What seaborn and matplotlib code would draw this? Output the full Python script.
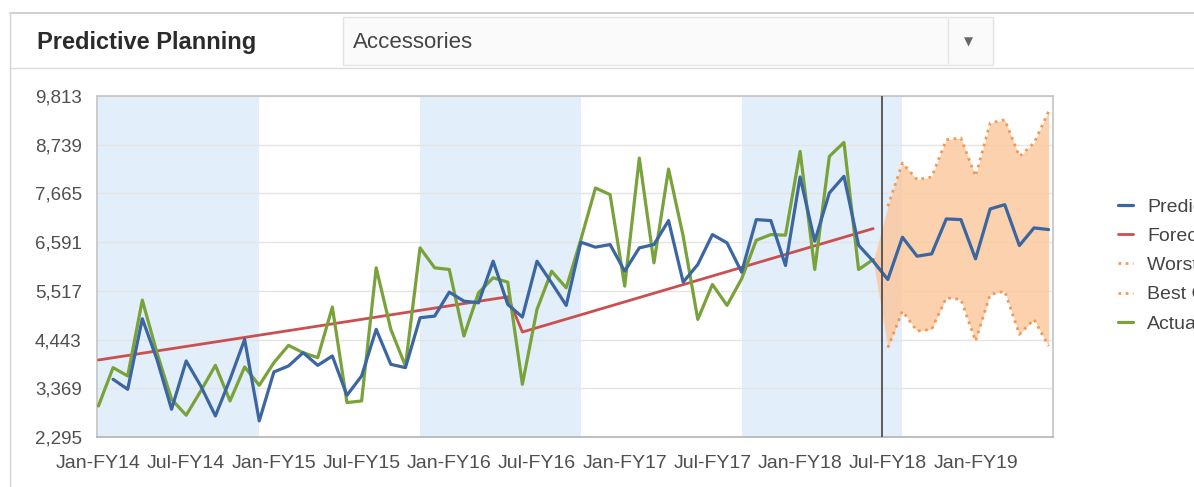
import numpy as np
import pandas as pd
import matplotlib
matplotlib.use("Agg")
import matplotlib.pyplot as plt
from matplotlib.patches import Rectangle
from matplotlib.lines import Line2D
from matplotlib.ticker import FuncFormatter
import seaborn as sns

# ---- data -----------------------------------------------------------------
tick_labels = ["Jan-FY14", "Jul-FY14", "Jan-FY15", "Jul-FY15", "Jan-FY16",
               "Jul-FY16", "Jan-FY17", "Jul-FY17", "Jan-FY18", "Jul-FY18",
               "Jan-FY19"]
y_ticks = [2295, 3369, 4443, 5517, 6591, 7665, 8739, 9813]

# monthly actuals, Jan-FY14 .. Jun-FY18
actual = [2980, 3824, 3640, 5313, 4154, 3127, 2775, 3310, 3875, 3090,
          3839, 3435, 3934, 4315, 4154, 4044, 5159, 3054, 3090, 6025,
          4668, 3861, 6465, 6025, 5988, 4521, 5474, 5805, 5709, 3457,
          5108, 5951, 5584, 6648, 7785, 7639, 5621, 8445, 6135, 8203,
          6722, 4888, 5658, 5196, 5783, 6634, 6758, 6744, 8592, 5988,
          8482, 8790, 5988, 6208]

# model prediction, Feb-FY14 .. Jun-FY19
predicted = [3567, 3347, 4902, 4007, 2907, 3971, 3420, 2760, 3567, 4447,
             2650, 3729, 3861, 4154, 3875, 4081, 3215, 3640, 4668, 3897,
             3824, 4924, 4961, 5489, 5291, 5254, 6171, 5218, 4939, 6171,
             5694, 5196, 6590, 6480, 6538, 5951, 6465, 6538, 7066, 5709,
             6098, 6758, 6575, 5929, 7088, 7066, 6076, 8027, 6611, 7675,
             8042, 6523, 6171, 5768, 6700, 6281, 6333, 7103, 7088, 6223,
             7323, 7418, 6516, 6905, 6868]

# trend forecast break points (month index, value)
forecast_month = [0, 28, 29, 53]
forecast = [3993, 5386, 4609, 6890]

# scenario bounds, Jul-FY18 .. Jun-FY19
worst_case = [4264, 5071, 4631, 4668, 5364, 5328, 4411, 5438, 5511, 4558,
              4888, 4301]
best_case = [7382, 8336, 7969, 8027, 8849, 8886, 8042, 9216, 9289, 8482,
             8776, 9473]

# alternating shaded periods (month index start, end)
band_start = [-0.5, 22, 44]
band_end = [10.95, 33, 55]
today_month = 53.58

# ---- frames ---------------------------------------------------------------
n_act = len(actual)
df_act = pd.DataFrame({"month": np.arange(n_act), "value": actual})
df_pred = pd.DataFrame({"month": np.arange(1, 1 + len(predicted)),
                        "value": predicted})
df_fc = pd.DataFrame({"month": forecast_month, "value": forecast})
scen_months = np.arange(54, 54 + len(best_case))
df_worst = pd.DataFrame({"month": scen_months, "value": worst_case})
df_best = pd.DataFrame({"month": scen_months, "value": best_case})

# ---- style ----------------------------------------------------------------
sns.set_style("white")
plt.rcParams["font.family"] = ["Liberation Sans", "DejaVu Sans"]

C_PRED = "#3b66a2"
C_FC = "#cc4f4f"
C_ACT = "#7aa23a"
C_SCEN = "#f29a55"
C_FILL = "#fbc9a0"
C_BAND = "#e2eef9"

fig = plt.figure(figsize=(11.94, 4.87), dpi=100)
W, H = 1194.0, 487.0

# ---- header panel ---------------------------------------------------------
fig.add_artist(Line2D([10 / W, 1], [1 - 13 / H, 1 - 13 / H],
                      transform=fig.transFigure, color="#c9c9c9", lw=1.2))
fig.add_artist(Line2D([10 / W, 1], [1 - 68 / H, 1 - 68 / H],
                      transform=fig.transFigure, color="#dcdcdc", lw=1.0))
fig.add_artist(Line2D([10 / W, 10 / W], [0, 1 - 13 / H],
                      transform=fig.transFigure, color="#d4d4d4", lw=1.0))
fig.add_artist(Rectangle((343 / W, 1 - 65 / H), 650 / W, 48 / H,
                         transform=fig.transFigure, facecolor="#fafafb",
                         edgecolor="#e4e4e4", lw=1.0))
fig.add_artist(Line2D([948 / W, 948 / W], [1 - 63 / H, 1 - 19 / H],
                      transform=fig.transFigure, color="#e4e4e4", lw=1.0))
fig.text(37 / W, 1 - 43 / H, "Predictive Planning", fontsize=17,
         fontweight="bold", color="#2b2b2b", va="center", ha="left")
fig.text(353 / W, 1 - 43 / H, "Accessories", fontsize=16,
         color="#444444", va="center", ha="left")
fig.text(968 / W, 1 - 42 / H, "\u25BC", fontsize=8.5, color="#666666",
         va="center", ha="center", family="DejaVu Sans")

# ---- chart ----------------------------------------------------------------
ax = fig.add_axes([97 / W, 1 - 437 / H, 956 / W, 341 / H])
ax.set_facecolor("white")

for s, e in zip(band_start, band_end):
    ax.axvspan(s, e, color=C_BAND, lw=0, zorder=0)

ax.fill_between(np.concatenate([[53], scen_months]),
                np.concatenate([[predicted[52]], worst_case]),
                np.concatenate([[predicted[52]], best_case]),
                color=C_FILL, alpha=0.85, lw=0, zorder=1)

sns.lineplot(data=df_pred, x="month", y="value", ax=ax, color=C_PRED,
             linewidth=2.3, label="Predicted", zorder=4)
sns.lineplot(data=df_fc, x="month", y="value", ax=ax, color=C_FC,
             linewidth=2.0, label="Forecast", zorder=3)
sns.lineplot(data=df_worst, x="month", y="value", ax=ax, color=C_SCEN,
             linewidth=2.0, linestyle=(0, (1, 1.6)), label="Worst Case",
             zorder=2)
sns.lineplot(data=df_best, x="month", y="value", ax=ax, color=C_SCEN,
             linewidth=2.0, linestyle=(0, (1, 1.6)), label="Best Case",
             zorder=2)
sns.lineplot(data=df_act, x="month", y="value", ax=ax, color=C_ACT,
             linewidth=2.3, label="Actual", zorder=3)

ax.axvline(today_month, color="#4f4f4f", lw=1.3, zorder=5)

ax.set_xlim(-0.1, 65.3)
ax.set_ylim(y_ticks[0], y_ticks[-1])
ax.set_yticks(y_ticks)
ax.yaxis.set_major_formatter(FuncFormatter(lambda v, p: f"{v:,.0f}"))
ax.set_xticks(np.arange(0, 6 * len(tick_labels), 6))
ax.set_xticklabels(tick_labels)
ax.set_xlabel("")
ax.set_ylabel("")
ax.yaxis.grid(True, color="#e4e4e4", lw=1.0)
ax.xaxis.grid(False)
ax.set_axisbelow(True)
ax.tick_params(axis="y", length=0, pad=11, labelsize=13.5,
               labelcolor="#4f4f4f")
ax.tick_params(axis="x", length=0, pad=13, labelsize=14,
               labelcolor="#4f4f4f")
for side, sp in ax.spines.items():
    sp.set_visible(True)
    sp.set_color("#c4c4c4" if side != "bottom" else "#b3b3b3")
    sp.set_linewidth(1.2)

handles, labels = ax.get_legend_handles_labels()
ax.get_legend().remove()
fig.legend(handles, labels, loc="upper left",
           bbox_to_anchor=(1118 / W, 1 - 198 / H), frameon=False,
           fontsize=14, labelcolor="#444444", handlelength=0.75,
           handletextpad=0.75, labelspacing=0.6, borderpad=0,
           borderaxespad=0)

fig.savefig("out.png", dpi=100)
